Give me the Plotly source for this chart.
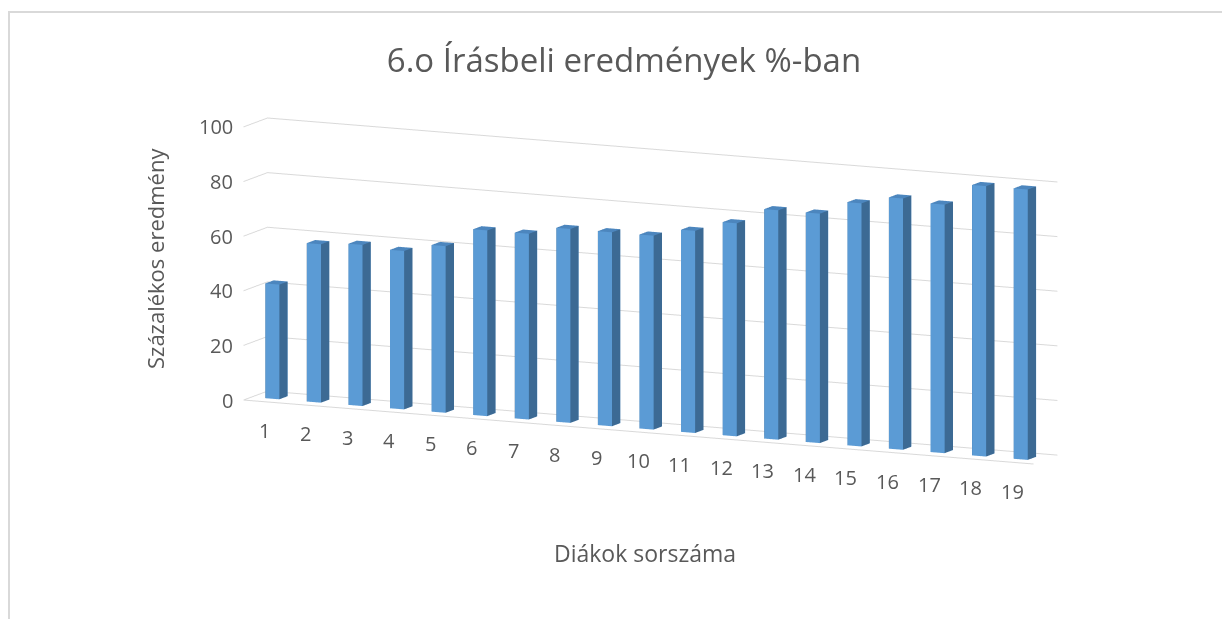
import math
import plotly.graph_objects as go

# ---------------- data ----------------
students = list(range(1, 20))
scores = [42, 58, 59, 58, 61, 68, 68, 71, 71, 71, 74, 78, 84, 84, 89, 92, 91, 99, 99]
z_ticks = [0, 20, 40, 60, 80, 100]
chart_title = "6.o Írásbeli eredmények %-ban"
x_title = "Diákok sorszáma"
y_title = "Százalékos eredmény"

# ---------------- style ----------------
FRONT = "#5B9BD5"
SIDE = "#3C6A94"
TOP = "#4C86BE"
GRID = "#D9D9D9"
TXT = "#595959"
FONT = "Open Sans"

half_w = 0.17
depth0, depth1 = 0.40, 0.82
floor_depth = 1.2

xs, ys, zs, I, J, K, fcol = [], [], [], [], [], [], []
for s, v in zip(students, scores):
    b = len(xs)
    x0, x1 = s - half_w, s + half_w
    for (cx, cy, cz) in [(x0, depth0, 0), (x1, depth0, 0), (x1, depth1, 0), (x0, depth1, 0),
                         (x0, depth0, v), (x1, depth0, v), (x1, depth1, v), (x0, depth1, v)]:
        xs.append(cx); ys.append(cy); zs.append(cz)
    faces = [((0, 1, 5), FRONT), ((0, 5, 4), FRONT),
             ((1, 2, 6), SIDE), ((1, 6, 5), SIDE),
             ((4, 5, 6), TOP), ((4, 6, 7), TOP),
             ((0, 3, 7), SIDE), ((0, 7, 4), SIDE),
             ((3, 2, 6), FRONT), ((3, 6, 7), FRONT),
             ((0, 1, 2), FRONT), ((0, 2, 3), FRONT)]
    for (a, bb, c), col in faces:
        I.append(b + a); J.append(b + bb); K.append(b + c); fcol.append(col)

bars = go.Mesh3d(x=xs, y=ys, z=zs, i=I, j=J, k=K, facecolor=fcol, flatshading=True,
                 lighting=dict(ambient=1, diffuse=0, specular=0, roughness=1, fresnel=0),
                 hoverinfo="skip", showscale=False)

theta = math.radians(25)
phi = math.radians(10)
r = 2.35
eye = dict(x=r * math.sin(theta) * math.cos(phi), y=-r * math.cos(theta) * math.cos(phi), z=r * math.sin(phi))

tick_font = dict(family=FONT, size=20, color=TXT)
scene_ann = []
for s in students:
    scene_ann.append(dict(x=s, y=0, z=0, text=str(s), showarrow=False, font=tick_font,
                          xanchor="center", yanchor="top", yshift=-13))
for t in z_ticks:
    scene_ann.append(dict(x=0.5, y=0, z=t, text=str(t), showarrow=False, font=tick_font,
                          xanchor="right", yanchor="middle", xshift=-8))

fig = go.Figure(bars)
fig.update_layout(
    width=1230, height=619,
    margin=dict(l=0, r=0, t=0, b=0),
    paper_bgcolor="white",
    showlegend=False,
    title=dict(text=chart_title, x=616 / 1230, xanchor="center", y=1 - 52 / 619, yanchor="middle",
               font=dict(family=FONT, size=33, color=TXT)),
    scene=dict(
        domain=dict(x=[0.047, 0.997], y=[0.085, 1.0]),
        xaxis=dict(range=[0.5, 19.5], showticklabels=False, showgrid=False, showline=True,
                   linecolor=GRID, linewidth=2, zeroline=False, showbackground=False,
                   title=dict(text=""), ticks="", showspikes=False),
        yaxis=dict(range=[0, floor_depth], showgrid=False, showticklabels=False, showline=False,
                   zeroline=False, showbackground=False, title=dict(text=""), ticks="",
                   showspikes=False),
        zaxis=dict(range=[0, 100], tickmode="array", tickvals=z_ticks, showticklabels=False,
                   showgrid=True, gridcolor=GRID, gridwidth=2, showline=False, zeroline=False,
                   showbackground=False, title=dict(text=""), ticks="", showspikes=False),
        aspectmode="manual", aspectratio=dict(x=3.08, y=0.2, z=0.98),
        camera=dict(projection=dict(type="orthographic"), eye=eye,
                    up=dict(x=0, y=0, z=1), center=dict(x=0, y=0, z=0)),
        annotations=scene_ann,
    ),
    annotations=[
        dict(text=x_title, xref="paper", yref="paper", x=637 / 1230, y=1 - 545 / 619,
             showarrow=False, font=dict(family=FONT, size=23, color=TXT),
             xanchor="center", yanchor="middle"),
        dict(text=y_title, xref="paper", yref="paper", x=147 / 1230, y=1 - 251 / 619,
             showarrow=False, textangle=-90, font=dict(family=FONT, size=22, color=TXT),
             xanchor="center", yanchor="middle"),
    ],
    shapes=[dict(type="rect", xref="paper", yref="paper", x0=1 / 1230, x1=1.05,
                 y0=-0.05, y1=1 - 4 / 619, line=dict(color=GRID, width=2))],
)

fig.write_html("out.html")
